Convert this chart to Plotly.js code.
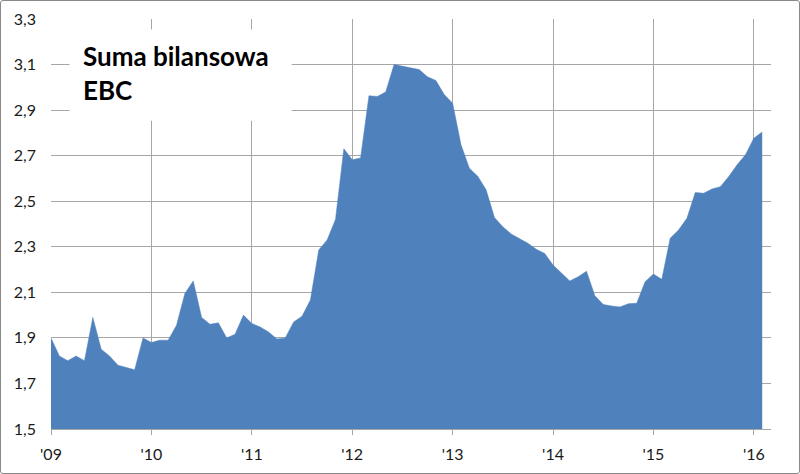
<!DOCTYPE html>
<html>
<head>
<meta charset="utf-8">
<script src="https://cdn.plot.ly/plotly-3.0.1.min.js"></script>
<style>
  html, body { margin: 0; padding: 0; background: #fff; }
  #wrap { position: absolute; left: 0; top: 0; width: 800px; height: 474px; box-sizing: border-box; border: 1px solid #8a8a8a; border-radius: 3px; overflow: hidden; }
  #chart { position: absolute; left: -1px; top: -1px; width: 800px; height: 474px; }
</style>
</head>
<body>
<div id="wrap"><div id="chart"></div></div>
<script>
// Monthly ECB balance sheet total (trillion EUR), Jan 2009 – Feb 2016
const months = [];
const balance = [
  1.90, 1.82, 1.80, 1.82, 1.80, 1.99, 1.85, 1.82, 1.78, 1.77, 1.76, 1.90,
  1.88, 1.89, 1.89, 1.955, 2.095, 2.15, 1.99, 1.96, 1.966, 1.90, 1.916, 2.00,
  1.963, 1.948, 1.926, 1.895, 1.90, 1.97, 1.995, 2.066, 2.286, 2.33, 2.42, 2.73,
  2.682, 2.69, 2.963, 2.96, 2.98, 3.10, 3.093, 3.085, 3.078, 3.046, 3.03, 2.968,
  2.93, 2.748, 2.645, 2.61, 2.55, 2.428, 2.388, 2.356, 2.337, 2.315, 2.289, 2.271,
  2.22, 2.183, 2.15, 2.168, 2.193, 2.085, 2.047, 2.04, 2.036, 2.05, 2.052, 2.146,
  2.18, 2.157, 2.337, 2.374, 2.425, 2.538, 2.535, 2.554, 2.564, 2.608, 2.66, 2.704,
  2.777, 2.804
];
for (let i = 0; i < balance.length; i++) months.push(i);

const yearTickVals = [0, 12, 24, 36, 48, 60, 72, 84];
const yearTickText = ["'09", "'10", "'11", "'12", "'13", "'14", "'15", "'16"];
const yTickVals = [1.5, 1.7, 1.9, 2.1, 2.3, 2.5, 2.7, 2.9, 3.1, 3.3];
const yTickText = ["1,5", "1,7", "1,9", "2,1", "2,3", "2,5", "2,7", "2,9", "3,1", "3,3"];
const titleText = "Suma bilansowa<br>EBC";

const gridColor = '#a6a6a6';
const fillColor = '#4F81BD';

const trace = {
  x: months,
  y: balance,
  type: 'scatter',
  mode: 'lines',
  fill: 'tozeroy',
  fillcolor: fillColor,
  line: { color: fillColor, width: 0.5 },
  hoverinfo: 'skip'
};

const layout = {
  width: 800,
  height: 474,
  margin: { l: 51, r: 29, t: 19, b: 45 },
  paper_bgcolor: 'rgba(0,0,0,0)',
  plot_bgcolor: '#ffffff',
  showlegend: false,
  font: { family: 'Lato, "Liberation Sans", sans-serif', size: 16, color: '#1a1a1a' },
  xaxis: {
    range: [0, 86.05],
    tickmode: 'array',
    tickvals: yearTickVals,
    ticktext: yearTickText,
    showgrid: true,
    gridcolor: gridColor,
    gridwidth: 1,
    zeroline: false,
    showline: true,
    linecolor: gridColor,
    linewidth: 1,
    ticks: 'outside',
    ticklen: 5,
    tickcolor: gridColor,
    ticklabelstandoff: 6,
    tickfont: { family: 'Lato, "Liberation Sans", sans-serif', size: 16, color: '#1a1a1a' },
    fixedrange: true
  },
  yaxis: {
    range: [1.5, 3.3],
    tickmode: 'array',
    tickvals: yTickVals,
    ticktext: yTickText,
    showgrid: true,
    gridcolor: gridColor,
    gridwidth: 1,
    zeroline: false,
    showline: false,
    ticks: '',
    ticklabelstandoff: 14,
    tickfont: { family: 'Lato, "Liberation Sans", sans-serif', size: 16, color: '#1a1a1a' },
    fixedrange: true
  },
  shapes: [
    {
      type: 'rect', xref: 'paper', yref: 'paper', layer: 'above',
      x0: (70 - 51.5) / 719.5, x1: (292 - 51.5) / 719.5,
      y0: (428.5 - 121) / 409, y1: (428.5 - 30) / 409,
      fillcolor: '#ffffff', line: { width: 0 }
    }
  ],
  annotations: [
    {
      xref: 'paper', yref: 'paper',
      x: (81 - 51.5) / 719.5, y: (428.5 - 38) / 409,
      xanchor: 'left', yanchor: 'top',
      align: 'left',
      showarrow: false,
      text: '<b>' + titleText.replace('<br>', '</b><br><b>') + '</b>',
      font: { family: 'Lato, "Liberation Sans", sans-serif', size: 26, color: '#000000' }
    }
  ]
};

Plotly.newPlot('chart', [trace], layout, { displayModeBar: false, staticPlot: true });
</script>
</body>
</html>
